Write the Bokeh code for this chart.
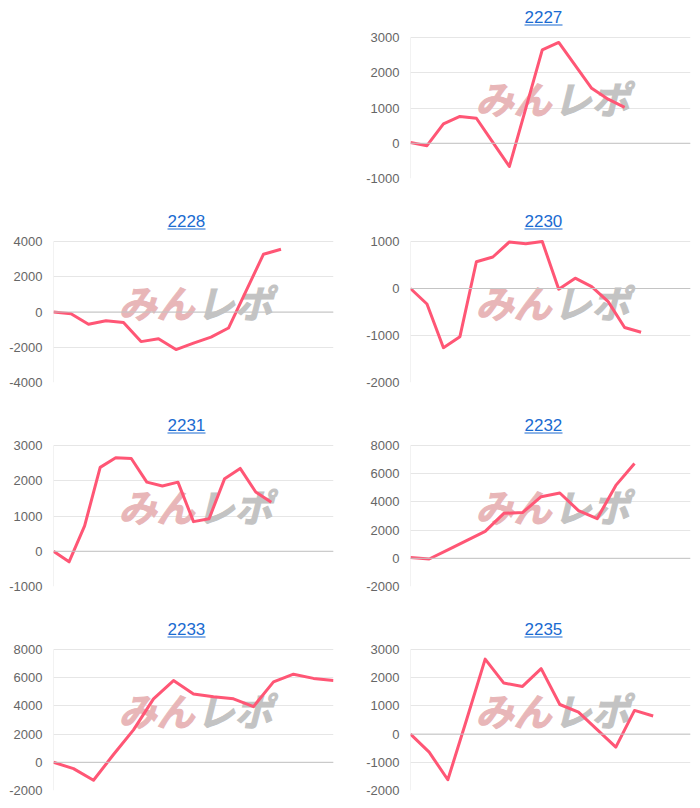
from bokeh.plotting import figure
from bokeh.layouts import column, row
from bokeh.models import (Range1d, FixedTicker, Span, Label, BoxAnnotation,
                          Spacer, PrintfTickFormatter)
from bokeh.embed import file_html
from bokeh.resources import INLINE

# ---- data ----
names = ["2227", "2228", "2230", "2231", "2232", "2233", "2235"]
label_counts = [18, 17, 18, 19, 16, 15, 16]
s2227 = [20, -70, 550, 760, 710, 25, -660, 990, 2650, 2860, 2210, 1560, 1250, 1020]
s2228 = [0, -100, -700, -500, -590, -1680, -1520, -2130, -1770, -1430, -910, 1180, 3280, 3560]
s2230 = [0, -330, -1260, -1025, 570, 670, 990, 950, 1000, -15, 220, 40, -280, -830, -930]
s2231 = [0, -300, 720, 2380, 2650, 2630, 1960, 1850, 1960, 840, 920, 2060, 2350, 1680, 1390]
s2232 = [50, -50, 600, 1250, 1910, 3190, 3240, 4370, 4630, 3380, 2810, 5170, 6730]
s2233 = [0, -450, -1270, 550, 2300, 4500, 5800, 4850, 4650, 4500, 3950, 5700, 6250, 5950, 5800]
s2235 = [0, -640, -1620, 500, 2660, 1810, 1690, 2320, 1050, 780, 160, -460, 840, 640]
series = [s2227, s2228, s2230, s2231, s2232, s2233, s2235]
y_min = [-1000, -4000, -2000, -1000, -2000, -2000, -2000]
y_max = [3000, 4000, 1000, 3000, 8000, 8000, 3000]
y_step = [1000, 2000, 1000, 1000, 2000, 2000, 1000]

LINE = "#ff5675"
GRID = "#e6e6e6"
ZERO = "#c4c4c4"
LINK = "#1a6bd1"
FONT = "Liberation Sans"

PLOT_H = 141      # pixel height of the value area
HEAD = 37         # pixel height of the title band above it


def panel(i, left_col, height):
    n = label_counts[i]
    frame_h = PLOT_H + HEAD
    bl, br = (53, 17) if left_col else (60, 10)
    lo, hi = y_min[i], y_max[i]
    top_ext = hi + (hi - lo) * HEAD / PLOT_H
    p = figure(width=350, height=height, output_backend="svg", toolbar_location=None,
               x_range=Range1d(0, n - 1), y_range=Range1d(lo, top_ext),
               min_border_left=bl, min_border_right=br, min_border_top=0,
               min_border_bottom=height - frame_h)
    p.outline_line_color = None
    p.xaxis.visible = False
    p.xgrid.visible = False
    p.ygrid.grid_line_color = GRID
    p.ygrid.grid_line_width = 1
    ax = p.yaxis[0]
    ax.ticker = FixedTicker(ticks=list(range(lo, hi + 1, y_step[i])))
    ax.formatter = PrintfTickFormatter(format="%d")
    ax.axis_line_color = None
    ax.major_tick_line_color = None
    ax.minor_tick_line_color = None
    ax.major_tick_out = 0
    ax.major_label_standoff = 11
    ax.major_label_text_font = FONT
    ax.major_label_text_font_size = "13px"
    ax.major_label_text_color = "#666666"
    # left axis border (only over the value area)
    p.segment(x0=[0], y0=[lo], x1=[0], y1=[hi], line_color=GRID, line_width=1)
    p.add_layout(Span(location=0, dimension="width", line_color=ZERO, line_width=1))
    # watermark
    for txt, xx, col in (("みん", 65, "#e8b6b8"), ("レポ", 143, "#c3c3c3")):
        kw = dict(x=xx, y=81, x_units="screen", y_units="screen", text=txt,
                  text_font="Noto Sans CJK JP", text_font_size="38px",
                  text_font_style="bold italic", text_color=col,
                  text_baseline="middle", level="underlay")
        if "text_outline_color" in Label.properties():
            kw["text_outline_color"] = col
        p.add_layout(Label(**kw))
    xs = list(range(len(series[i])))
    p.line(xs, series[i], line_color=LINE, line_width=3, line_join="round")
    # title (link style, underlined)
    p.add_layout(Label(x=114, y=frame_h - 16, x_units="screen", y_units="screen",
                       text=names[i], text_font=FONT, text_font_size="17px",
                       text_color=LINK, text_baseline="alphabetic", text_align="left"))
    p.add_layout(BoxAnnotation(left=114, right=152, bottom=frame_h - 25, top=frame_h - 24,
                               left_units="screen", right_units="screen",
                               bottom_units="screen", top_units="screen",
                               fill_color=LINK, fill_alpha=1, line_color=None))
    return p


f = [panel(i, i in (1, 3, 5), 196 if i in (5, 6) else 204) for i in range(7)]
layout = column(
    row(Spacer(width=350, height=204), f[0]),
    row(f[1], f[2]),
    row(f[3], f[4]),
    row(f[5], f[6]),
)
open("out.html", "w").write(file_html(layout, INLINE))
